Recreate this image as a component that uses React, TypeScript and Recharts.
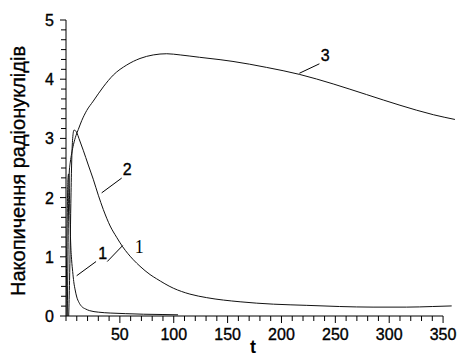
import React from 'react';
import { LineChart, Line, XAxis, YAxis, ReferenceLine, ReferenceDot, Label } from 'recharts';

// Curve 1
const c1T = [0, 1, 1.8, 2.4, 3.0, 3.6, 4.3, 5.2, 6.2, 7.2, 8.5, 10, 12, 14.6, 18, 22, 30, 41, 55, 72, 90, 104];
const c1V = [0, 1.5, 2.3, 2.4, 2.2, 1.7, 1.25, 0.95, 0.75, 0.58, 0.44, 0.32, 0.23, 0.16, 0.12, 0.09, 0.065, 0.05, 0.04, 0.03, 0.025, 0.02];
// Curve 2
const c2T = [2.5, 3.3, 3.9, 4.5, 5.2, 6.2, 7.4, 8.8, 10.2, 12, 16, 20.7, 25.3, 30, 34.6, 41, 47, 52.6, 62.5, 68.7, 78, 84, 99.6, 115, 130.6, 161.6, 192.5, 223.5, 254, 285, 316, 340, 358];
const c2V = [0, 0.6, 1.2, 1.9, 2.55, 3.0, 3.14, 3.13, 3.09, 3.0, 2.8, 2.55, 2.31, 2.04, 1.8, 1.52, 1.33, 1.17, 0.95, 0.84, 0.7, 0.63, 0.47, 0.37, 0.31, 0.24, 0.2, 0.18, 0.16, 0.15, 0.15, 0.16, 0.17];
// Curve 3
const c3T = [1.2, 1.8, 2.4, 3.1, 4, 5.3, 7, 9.3, 11.4, 14.6, 19.2, 25.3, 34.6, 43.9, 56.4, 68.7, 81, 93.5, 106, 124, 143, 155, 186, 217, 248, 279, 310, 341, 361];
const c3V = [0, 1.0, 1.9, 2.45, 2.6, 2.75, 2.9, 3.05, 3.15, 3.3, 3.47, 3.63, 3.87, 4.07, 4.24, 4.35, 4.41, 4.43, 4.41, 4.37, 4.33, 4.3, 4.2, 4.08, 3.92, 3.74, 3.56, 3.4, 3.32];

const xLabelTicks = [50, 100, 150, 200, 250, 300, 350];
const xMinorStep = 10;
const xAxisEnd = 350;
const yLabelTicks = [0, 1, 2, 3, 4, 5];
const yMinorPerUnit = 6;

// annotations
const annLabels = ['1', '2', '1', '3'];
const annLabelT = [34.1, 56.9, 68.1, 240.5];
const annLabelV = [1.06, 2.47, 1.18, 4.41];
const annLineT1 = [9.9, 33.1, 38.3, 216.6];
const annLineV1 = [0.68, 2.08, 0.92, 4.10];
const annLineT2 = [27.9, 51.7, 52.6, 235.2];
const annLineV2 = [0.92, 2.33, 1.19, 4.26];
const annSerif = [false, false, true, false];

const toPts = (ts: number[], vs: number[]) => ts.map((t, i) => ({ t, v: vs[i] }));
const s1 = toPts(c1T, c1V);
const s2 = toPts(c2T, c2V);
const s3 = toPts(c3T, c3V);

const xTicks: number[] = [];
for (let t = 0; t <= xAxisEnd; t += xMinorStep) xTicks.push(t);
const yTicks: number[] = [];
for (let i = 0; i <= 5 * yMinorPerUnit; i++) yTicks.push(i / yMinorPerUnit);

const FONT = 'Liberation Sans, Arial, sans-serif';
const EMB = { stroke: '#000', strokeWidth: 0.35 };

const XTick = (props: any) => {
  const { x, y, payload } = props;
  const major = xLabelTicks.includes(payload.value);
  return (
    <g>
      <line x1={x} y1={y} x2={x} y2={y + (major ? 7 : 5)} stroke="#000" strokeWidth={1} />
      {major && (
        <text x={x} y={y + 24} textAnchor="middle" fontFamily={FONT} fontSize={16} fill="#000" {...EMB}>
          {payload.value}
        </text>
      )}
    </g>
  );
};

const YTick = (props: any) => {
  const { x, y, payload } = props;
  const v = payload.value;
  const r = Math.round(v);
  const major = Math.abs(v - r) < 1e-6 && yLabelTicks.includes(r);
  return (
    <g>
      <line x1={x - (major ? 6 : 5)} y1={y} x2={x} y2={y} stroke="#000" strokeWidth={1} />
      {major && (
        <text x={x - 12} y={y + 6} textAnchor="end" fontFamily={FONT} fontSize={16} fill="#000" {...EMB}>
          {r}
        </text>
      )}
    </g>
  );
};

const YTitle = (props: any) => {
  const { viewBox } = props;
  const cx = 18;
  const cy = viewBox.y + viewBox.height / 2 + 3;
  return (
    <text
      x={cx}
      y={cy}
      transform={`rotate(-90, ${cx}, ${cy})`}
      textAnchor="middle"
      dominantBaseline="central"
      fontFamily={FONT}
      fontSize={20}
      fill="#000"
      {...EMB}
    >
      Накопичення радіонуклідів
    </text>
  );
};

const XTitle = (props: any) => {
  const { viewBox } = props;
  return (
    <text x={253} y={viewBox.y + 37} textAnchor="middle" fontFamily={FONT} fontSize={18} fontWeight="bold" fill="#000">
      t
    </text>
  );
};

export default function App() {
  return (
    <div style={{ position: 'absolute', left: 0, top: 0, width: 464, height: 356, background: '#fff' }}>
      <LineChart width={464} height={356} margin={{ top: 20, right: 8, left: 0, bottom: 0 }}>
        <XAxis
          type="number"
          dataKey="t"
          domain={[0, 362]}
          ticks={xTicks}
          interval={0}
          axisLine={false}
          tickLine={false}
          tickSize={0}
          tickMargin={0}
          tick={<XTick />}
          height={40}
          allowDataOverflow
        >
          <Label content={<XTitle />} />
        </XAxis>
        <YAxis
          type="number"
          dataKey="v"
          domain={[0, 5]}
          ticks={yTicks}
          interval={0}
          axisLine={{ stroke: '#000' }}
          tickLine={false}
          tickSize={0}
          tickMargin={0}
          tick={<YTick />}
          width={66}
          allowDataOverflow
        >
          <Label content={<YTitle />} />
        </YAxis>
        <ReferenceLine segment={[{ x: 0, y: 0 }, { x: xAxisEnd, y: 0 }]} stroke="#000" strokeWidth={1} />
        <Line data={s1} dataKey="v" type="monotone" stroke="#111" strokeWidth={1} dot={false} isAnimationActive={false} />
        <Line data={s2} dataKey="v" type="monotone" stroke="#111" strokeWidth={1} dot={false} isAnimationActive={false} />
        <Line data={s3} dataKey="v" type="monotone" stroke="#111" strokeWidth={1} dot={false} isAnimationActive={false} />
        {annLabels.map((lab, i) => (
          <ReferenceLine
            key={'l' + i}
            segment={[
              { x: annLineT1[i], y: annLineV1[i] },
              { x: annLineT2[i], y: annLineV2[i] },
            ]}
            stroke="#000"
            strokeWidth={1}
          />
        ))}
        {annLabels.map((lab, i) => (
          <ReferenceDot
            key={'d' + i}
            x={annLabelT[i]}
            y={annLabelV[i]}
            r={0}
            fill="none"
            stroke="none"
            label={{
              value: lab,
              position: 'center',
              fill: '#000',
              stroke: annSerif[i] ? 'none' : '#000',
              strokeWidth: annSerif[i] ? 0 : 0.35,
              fontSize: annSerif[i] ? 18 : 16,
              fontFamily: annSerif[i] ? 'Liberation Serif, Times New Roman, serif' : FONT,
            }}
          />
        ))}
      </LineChart>
    </div>
  );
}
